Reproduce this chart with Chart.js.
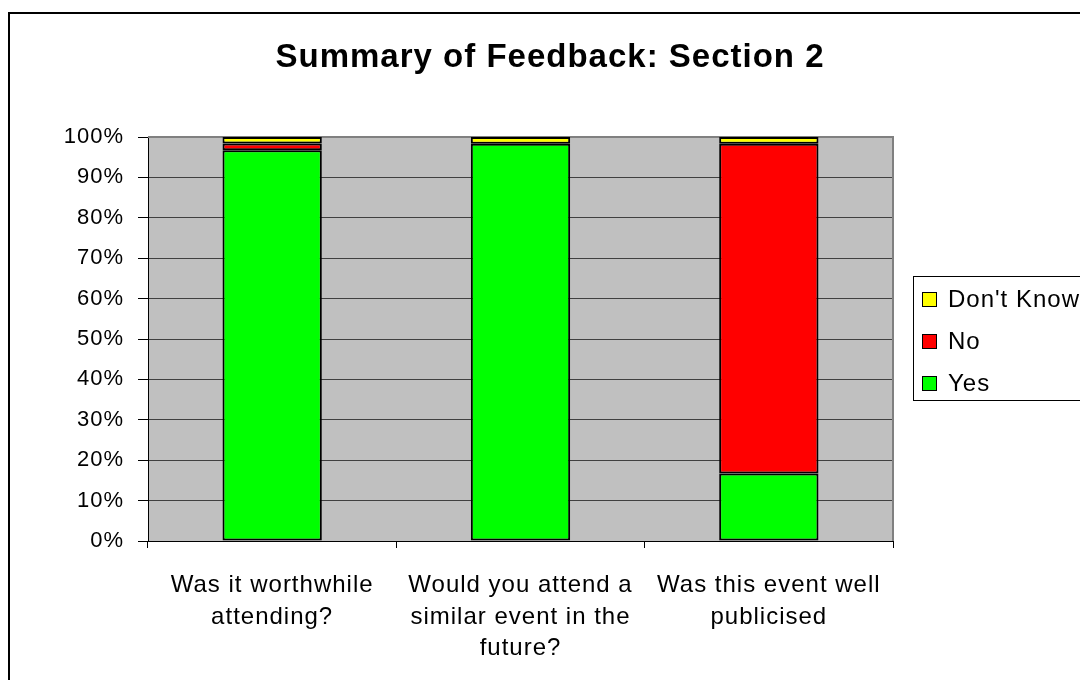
<!DOCTYPE html>
<html>
<head>
<meta charset="utf-8">
<script src="https://cdn.jsdelivr.net/npm/chart.js@4"></script>
<style>
  html, body { margin: 0; padding: 0; background: #fff; }
  #wrap { width: 1080px; height: 680px; }
</style>
</head>
<body>
<div id="wrap"><canvas id="chart" width="1080" height="680"></canvas></div>
<script>
const titleText = "Summary of Feedback: Section 2";
const categories = [
    ["Was it worthwhile", "attending?"],
    ["Would you attend a", "similar event in the", "future?"],
    ["Was this event well", "publicised"]
];
const yesValues = [96.7, 98.3, 16.7];
const noValues = [1.7, 0, 81.6];
const dontKnowValues = [1.6, 1.7, 1.7];
const seriesNames = ["Yes", "No", "Don't Know"];
const seriesColors = ["#00FF00", "#FF0000", "#FFFF00"];

const FONT = "Arial, 'Liberation Sans', sans-serif";

// grey plot background + frame + title + legend, Excel style
const excelLook = {
    id: 'excelLook',
    beforeDraw(chart) {
        const {ctx, chartArea: a} = chart;
        ctx.letterSpacing = '1px';   // the old Excel text is a bit spaced out
        ctx.save();
        ctx.fillStyle = '#C0C0C0';
        ctx.fillRect(a.left, a.top, a.right - a.left, a.bottom - a.top);
        ctx.restore();
    },
    beforeDatasetsDraw(chart) {
        const {ctx, chartArea: a} = chart;
        ctx.save();
        ctx.strokeStyle = '#808080';
        ctx.lineWidth = 2;
        ctx.beginPath();
        ctx.moveTo(a.left, a.top);
        ctx.lineTo(a.right, a.top);
        ctx.lineTo(a.right, a.bottom);
        ctx.stroke();
        ctx.restore();
    },
    afterDraw(chart) {
        const ctx = chart.ctx;
        ctx.save();
        // outer chart border
        ctx.strokeStyle = '#000';
        ctx.lineWidth = 2;
        ctx.beginPath();
        ctx.moveTo(9, 690);
        ctx.lineTo(9, 13);
        ctx.lineTo(1090, 13);
        ctx.stroke();

        // title
        ctx.fillStyle = '#000';
        ctx.font = 'bold 33px ' + FONT;
        ctx.textAlign = 'center';
        ctx.textBaseline = 'alphabetic';
        ctx.fillText(titleText, 550, 67);

        // legend
        ctx.strokeStyle = '#000';
        ctx.lineWidth = 1;
        ctx.strokeRect(913.5, 276.5, 200, 124);
        const rows = [2, 1, 0];
        ctx.font = '24px ' + FONT;
        ctx.textAlign = 'left';
        rows.forEach((si, i) => {
            const y = 299 + i * 42;
            ctx.fillStyle = seriesColors[si];
            ctx.fillRect(922, y - 7, 15, 15);
            ctx.strokeRect(922.5, y - 6.5, 14, 14);
            ctx.fillStyle = '#000';
            ctx.textBaseline = 'alphabetic';
            ctx.fillText(seriesNames[si], 948, y + 8);
        });
        ctx.restore();
    }
};

const datasets = [yesValues, noValues, dontKnowValues].map((vals, i) => ({
    label: seriesNames[i],
    data: vals,
    backgroundColor: seriesColors[i],
    borderColor: '#000',
    borderWidth: 2,
    borderSkipped: false,
    barPercentage: 0.4,
    categoryPercentage: 1.0
}));

new Chart(document.getElementById('chart'), {
    type: 'bar',
    data: { labels: categories, datasets: datasets },
    options: {
        responsive: false,
        animation: false,
        layout: { padding: { left: 0, top: 137, right: 187, bottom: 0 } },
        plugins: {
            legend: { display: false },
            title: { display: false },
            tooltip: { enabled: false }
        },
        scales: {
            x: {
                stacked: true,
                grid: { drawOnChartArea: false, offset: true, color: '#000', tickLength: 7 },
                border: { color: '#000', width: 1 },
                ticks: {
                    color: '#000',
                    font: { family: FONT, size: 24, lineHeight: 1.33 },
                    padding: 21,
                    maxRotation: 0,
                    autoSkip: false
                },
                afterFit(scale) { scale.height = 139; }
            },
            y: {
                stacked: true,
                min: 0,
                max: 100,
                grid: { color: '#404040', tickLength: 10, tickColor: '#000' },
                border: { color: '#000', width: 1 },
                ticks: {
                    stepSize: 10,
                    color: '#000',
                    font: { family: FONT, size: 22 },
                    padding: 14,
                    callback: v => v + '%'
                },
                afterFit(scale) { scale.width = 148; }
            }
        }
    },
    plugins: [excelLook]
});
</script>
</body>
</html>
